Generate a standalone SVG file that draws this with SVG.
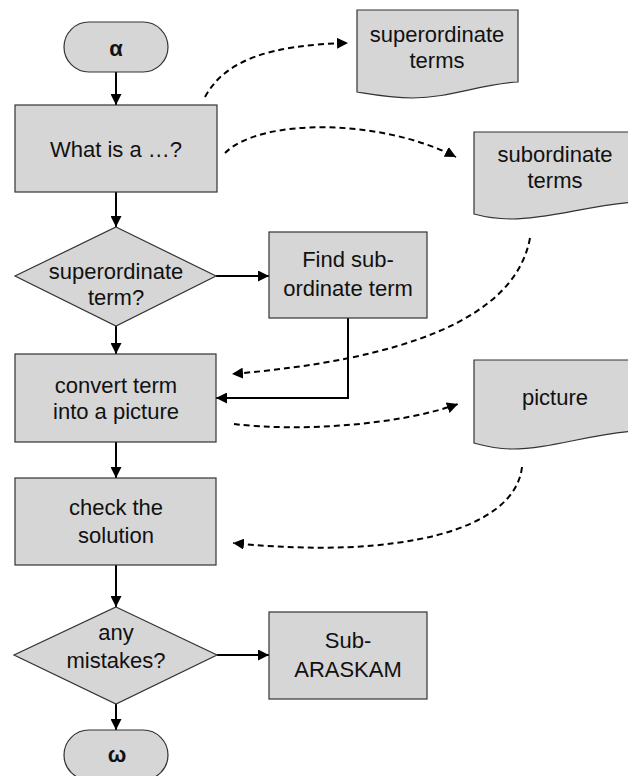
<svg xmlns="http://www.w3.org/2000/svg" width="628" height="776" viewBox="0 0 628 776">
  <style>
    .shape { fill: #d6d6d6; stroke: #333; stroke-width: 1.2; }
    .lbl { font-family: "Liberation Sans", Arial, sans-serif; font-size: 22px; fill: #111; text-anchor: middle; }
    .sym { font-family: "Liberation Sans", Arial, sans-serif; font-size: 22px; font-weight: bold; fill: #111; text-anchor: middle; }
    .flow { fill: none; stroke: #000; stroke-width: 2; }
    .data { fill: none; stroke: #000; stroke-width: 2; stroke-dasharray: 6 4; }
  </style>
  <defs>
    <marker id="tip" viewBox="0 0 10 10" refX="10" refY="5" markerWidth="5.5" markerHeight="5.5" orient="auto" markerUnits="strokeWidth">
      <path d="M0,0 L10,5 L0,10 Z" fill="#000"/>
    </marker>
  </defs>

  <rect width="628" height="776" fill="#fff"/>

  <!-- connectors -->
  <g id="connectors">
    <line class="flow" x1="116" y1="72" x2="116" y2="105" marker-end="url(#tip)"/>
    <line class="flow" x1="116" y1="192" x2="116" y2="227" marker-end="url(#tip)"/>
    <line class="flow" x1="216" y1="276" x2="269" y2="276" marker-end="url(#tip)"/>
    <line class="flow" x1="116" y1="326" x2="116" y2="354" marker-end="url(#tip)"/>
    <polyline class="flow" points="348,318 348,398 216,398" marker-end="url(#tip)"/>
    <line class="flow" x1="116" y1="442" x2="116" y2="478" marker-end="url(#tip)"/>
    <line class="flow" x1="116" y1="565" x2="116" y2="607" marker-end="url(#tip)"/>
    <line class="flow" x1="217" y1="655" x2="269" y2="655" marker-end="url(#tip)"/>
    <line class="flow" x1="116" y1="704" x2="116" y2="730" marker-end="url(#tip)"/>

    <path class="data" d="M205,97 C225,60 270,45 348,43" marker-end="url(#tip)"/>
    <path class="data" d="M225,153 C260,118 380,118 456,157" marker-end="url(#tip)"/>
    <path class="data" d="M530,238 C515,320 400,360 232,374" marker-end="url(#tip)"/>
    <path class="data" d="M234,424 C300,432 400,425 458,404" marker-end="url(#tip)"/>
    <path class="data" d="M522,467 C515,530 400,560 233,543" marker-end="url(#tip)"/>
  </g>

  <!-- start -->
  <g id="start">
    <rect class="shape" x="64" y="22" width="104" height="50" rx="25" ry="25"/>
    <text class="sym" x="116" y="56">α</text>
  </g>

  <g id="what-is">
    <rect class="shape" x="15" y="105" width="202" height="87"/>
    <text class="lbl" x="116" y="157">What is a …?</text>
  </g>

  <g id="superordinate-check">
    <polygon class="shape" points="116,227 216,276 116,326 15,276"/>
    <text class="lbl" x="116" y="279">superordinate</text>
    <text class="lbl" x="116" y="305">term?</text>
  </g>

  <g id="find-sub">
    <rect class="shape" x="269" y="232" width="158" height="86"/>
    <text class="lbl" x="348" y="267">Find sub-</text>
    <text class="lbl" x="348" y="296">ordinate term</text>
  </g>

  <g id="convert">
    <rect class="shape" x="15" y="354" width="201" height="88"/>
    <text class="lbl" x="116" y="393">convert term</text>
    <text class="lbl" x="116" y="419">into a picture</text>
  </g>

  <g id="check">
    <rect class="shape" x="15" y="478" width="201" height="87"/>
    <text class="lbl" x="116" y="515">check the</text>
    <text class="lbl" x="116" y="543">solution</text>
  </g>

  <g id="mistakes-check">
    <polygon class="shape" points="116,607 217,655 116,704 14,655"/>
    <text class="lbl" x="116" y="640">any</text>
    <text class="lbl" x="116" y="668">mistakes?</text>
  </g>

  <g id="sub-araskam">
    <rect class="shape" x="269" y="612" width="158" height="87"/>
    <text class="lbl" x="348" y="648">Sub-</text>
    <text class="lbl" x="348" y="677">ARASKAM</text>
  </g>

  <!-- end -->
  <g id="end">
    <rect class="shape" x="64" y="730" width="104" height="50" rx="25" ry="25"/>
    <text class="sym" x="117" y="762">ω</text>
  </g>

  <!-- documents -->
  <g id="doc-superordinate">
    <path class="shape" d="M357,10 H518 V82 C480,84 450,98 413,98 C390,98 375,95 357,92 Z"/>
    <text class="lbl" x="437" y="42">superordinate</text>
    <text class="lbl" x="437" y="68">terms</text>
  </g>

  <g id="doc-subordinate">
    <path class="shape" d="M474,132 H636 V202 C590,205 550,219 512,219 C495,219 485,217 474,214 Z"/>
    <text class="lbl" x="555" y="162">subordinate</text>
    <text class="lbl" x="555" y="188">terms</text>
  </g>

  <g id="doc-picture">
    <path class="shape" d="M474,360 H636 V431 C590,434 550,449 512,449 C495,449 485,446 474,443 Z"/>
    <text class="lbl" x="555" y="405">picture</text>
  </g>
</svg>
